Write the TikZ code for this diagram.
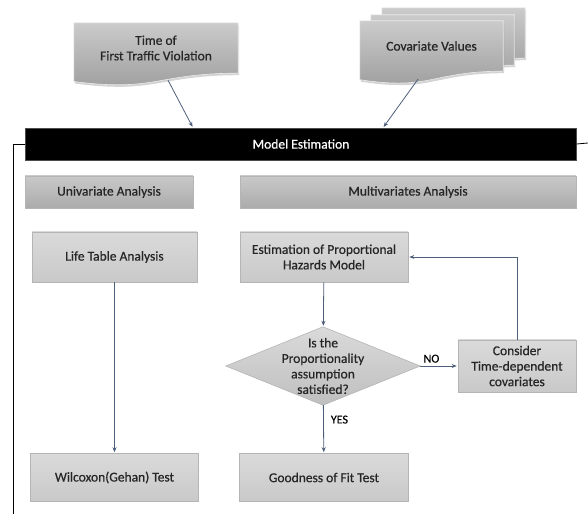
\documentclass[tikz,border=0pt]{standalone}
\usepackage{fontspec}
\setmainfont{Carlito}
\newfontfamily\diagfont{Carlito}[FakeBold=0.6]
\usepackage{xcolor}
\usetikzlibrary{positioning}
\usetikzlibrary{shadows}
\usetikzlibrary{backgrounds}
\usetikzlibrary{arrows.meta}

\definecolor{inkgray}{HTML}{262626}
\definecolor{arrowblue}{HTML}{4E5F7C}
\definecolor{headtop}{HTML}{C9C9C9}
\definecolor{headbot}{HTML}{ABABAB}
\definecolor{boxtop}{HTML}{DADADA}
\definecolor{boxbot}{HTML}{C9C9C9}
\definecolor{boxedge}{HTML}{B5B5B5}
\definecolor{doctop}{HTML}{CBCBCB}
\definecolor{docbot}{HTML}{9C9C9C}

% wavy-bottom document outline behind a node: node, offset, rise of the wave
\newcommand{\docshape}[3]{%
  \path[docfill] ([shift={(#2)}]#1.north west) -- ([shift={(#2)}]#1.north east)
    -- ([shift={(#2)}]#1.south east)
    .. controls ([shift={(#2)}]#1.south) and ([shift={(#2)}, yshift=-2.3*#3]#1.south)
    .. ([shift={(#2)}, yshift=-#3]#1.south west) -- cycle;}

\begin{document}
\begin{tikzpicture}[x=1pt, y=1pt, on grid, node distance=48pt, auto,
      every node/.style={font=\diagfont\fontsize{13.5}{15.5}\selectfont, text=inkgray, align=center, inner sep=2pt},
      barbox/.style={fill=black, draw=black!70, text=white, minimum width=551pt, minimum height=32pt},
      headbox/.style={top color=headtop, bottom color=headbot, draw=boxedge, line width=0.4pt, minimum height=32pt,
        drop shadow={shadow xshift=1pt, shadow yshift=-1.5pt, opacity=0.3}},
      stepbox/.style={top color=boxtop, bottom color=boxbot, draw=boxedge, line width=0.6pt},
      docbox/.style={minimum height=50pt},
      docfill/.style={top color=doctop, bottom color=docbot, draw=white!92!black, line width=0.6pt,
        drop shadow={shadow xshift=1pt, shadow yshift=-2pt, opacity=0.35}},
      flow/.style={draw=arrowblue, line width=0.8pt, shorten >=1pt, -{Stealth[length=5pt, width=4pt]}},
      el/.style={font=\diagfont\fontsize{12}{14}\selectfont, text=black, inner sep=3pt}]

      \useasboundingbox (0,0) rectangle (588,514);

      \node[barbox] (model) at (301,370) {Model Estimation};

      \node[docbox, minimum width=164pt] (time) [above=96pt of model, xshift=-145pt] {Time of\\First Traffic Violation};
      \node[docbox, minimum width=143pt] (cov) [above=98pt of model, xshift=130.5pt] {Covariate Values};

      \node[headbox, minimum width=168pt] (uni) [below=of model, xshift=-192pt] {Univariate Analysis};
      \node[headbox, minimum width=336pt] (multi) [below=of model, xshift=107pt] {Multivariates Analysis};

      \node[stepbox, minimum width=165pt, minimum height=50pt] (life) [below=65pt of uni, xshift=5.5pt] {Life Table Analysis};
      \node[stepbox, minimum width=168pt, minimum height=50pt] (est) [below=65pt of multi, xshift=-84pt] {Estimation of Proportional\\Hazards Model};

      \node[minimum width=194pt, minimum height=78pt] (check) [below=109pt of est, xshift=-1pt] {Is the\\Proportionality\\assumption\\satisfied?};
      \node[stepbox, minimum width=118pt, minimum height=52pt] (cons) [right=194pt of check] {Consider\\Time-dependent\\covariates};

      \node[stepbox, minimum width=168pt, minimum height=48pt] (wil) [below=220.5pt of life] {Wilcoxon(Gehan) Test};
      \node[stepbox, minimum width=169pt, minimum height=48pt] (good) [below=220.5pt of est] {Goodness of Fit Test};

      \begin{scope}[on background layer]
        \docshape{cov}{22,13}{8.5}
        \docshape{cov}{11,6}{8.5}
        \docshape{cov}{0,0}{8.5}
        \docshape{time}{0,0}{8.3}
        \path[top color=boxtop, bottom color=boxbot!95!black, draw=boxedge, line width=0.6pt]
          (check.north) -- (check.east) -- (check.south) -- (check.west) -- cycle;
      \end{scope}

      % frame round the estimation part
      \coordinate (framecorner) at (13,0);
      \coordinate (frameright) at (588,371);
      \draw[line width=0.8pt] (model.west) -| (framecorner);
      \draw[line width=0.8pt] (model.east) -- (frameright);

      \draw[flow] ([xshift=12pt, yshift=-7pt]time.south) -- ([xshift=-108pt]model.north);
      \draw[flow] ([xshift=-13.5pt, yshift=-8pt]cov.south) -- ([xshift=82pt]model.north);

      \path[flow]
        (life) edge (wil)
        (est) edge (check)
        (check) edge node[el, pos=0.3, xshift=4pt] {YES} (good)
        (check) edge node[el, pos=0.3] {NO} (cons);

      \draw[flow] (cons.north) |- (est.east);

\end{tikzpicture}
\end{document}
